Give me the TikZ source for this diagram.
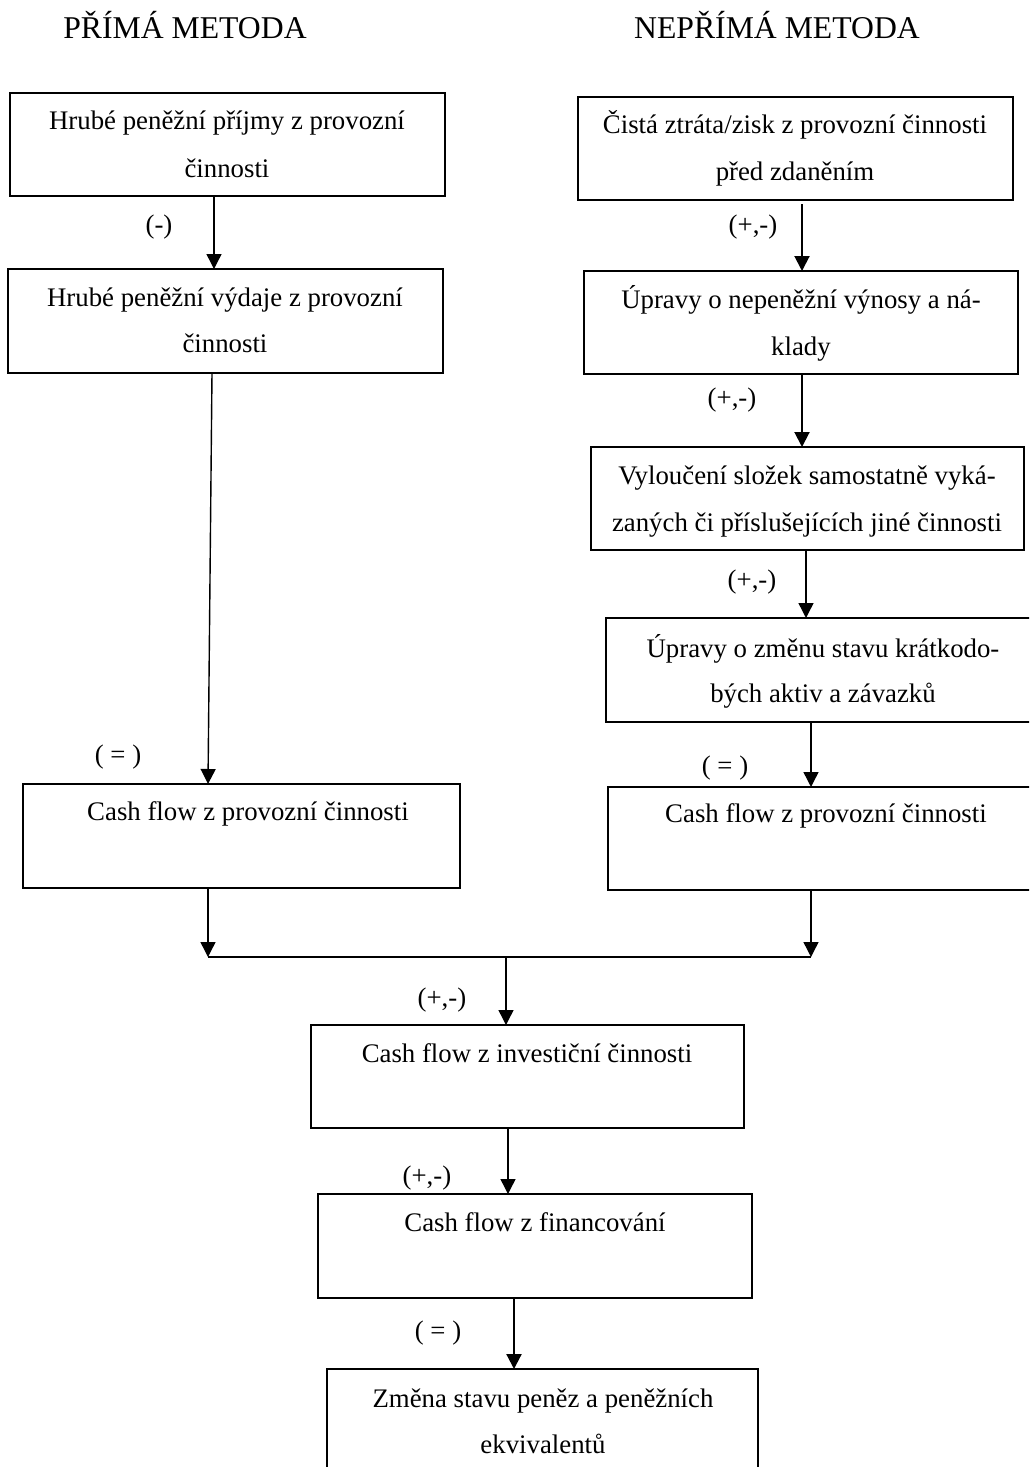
\documentclass[tikz,border=0pt]{standalone}
\usepackage{fontspec}
\setmainfont{Liberation Serif}
\usetikzlibrary{arrows.meta,fit}
\begin{document}
\begin{tikzpicture}[x=0.5pt,y=-0.5pt,
  box/.style={draw, line width=0.95pt, inner sep=0pt, outer sep=0pt},
  txt/.style={inner sep=0pt, anchor=base, font=\fontsize{13.4}{16}\selectfont},
  lbl/.style={inner sep=0pt, anchor=center, font=\fontsize{13.4}{16}\selectfont},
  head/.style={inner sep=0pt, anchor=base, font=\fontsize{15.85}{19}\selectfont},
  arr/.style={-{Triangle[width=7.5pt,length=7.5pt]}, line width=0.7pt},
  arrb/.style={arr, line width=1pt},
  bar/.style={line width=0.7pt}]
\useasboundingbox (0,0) rectangle (1029,1467);
\clip (0,0) rectangle (1029,1467);

% column headings
\node[head] (hl) at (185,39) {PŘÍMÁ METODA};
\node[head] (hr) at (777,39) {NEPŘÍMÁ METODA};

% direct method
\node[box, fit={(10,93) (445,196)}] (L1) {};
\node[txt] (L1a) at (227,129) {Hrubé peněžní příjmy z provozní};
\node[txt] (L1b) at (227,177) {činnosti};
\node[box, fit={(8,269) (443,373)}] (L2) {};
\node[txt] (L2a) at (225,306) {Hrubé peněžní výdaje z provozní};
\node[txt] (L2b) at (225,352) {činnosti};
\node[box, fit={(23,784) (460,888)}] (L3) {};
\node[txt] (L3a) at (248,820) {Cash flow z provozní činnosti};

% indirect method
\node[box, fit={(578,97) (1013,200)}] (R1) {};
\node[txt] (R1a) at (795,133) {Čistá ztráta/zisk z provozní činnosti};
\node[txt] (R1b) at (795,180) {před zdaněním};
\node[box, fit={(584,271) (1018,374)}] (R2) {};
\node[txt] (R2a) at (801,308) {Úpravy o nepeněžní výnosy a ná-};
\node[txt] (R2b) at (801,355) {klady};
\node[box, fit={(591,447) (1024,550)}] (R3) {};
\node[txt] (R3a) at (807,484) {Vyloučení složek samostatně vyká-};
\node[txt] (R3b) at (807,531) {zaných či příslušejících jiné činnosti};
\node[box, fit={(606,618) (1040,722)}] (R4) {};
\node[txt] (R4a) at (823,657) {Úpravy o změnu stavu krátkodo-};
\node[txt] (R4b) at (823,702) {bých aktiv a závazků};
\node[box, fit={(608,787) (1044,890)}] (R5) {};
\node[txt] (R5a) at (826,822) {Cash flow z provozní činnosti};

% common part
\node[box, fit={(311,1025) (744,1128)}] (C1) {};
\node[txt] (C1a) at (527,1062) {Cash flow z investiční činnosti};
\node[box, fit={(318,1194) (752,1298)}] (C2) {};
\node[txt] (C2a) at (535,1231) {Cash flow z financování};
\node[box, fit={(327,1369) (758,1480)}] (C3) {};
\node[txt] (C3a) at (543,1407) {Změna stavu peněz a peněžních};
\node[txt] (C3b) at (543,1453) {ekvivalentů};

% junction of both methods
\coordinate (jl) at (208,957);
\coordinate (jr) at (811,957);
\coordinate (jc) at (506,957);

% connectors
\draw[arr] (214,0 |- L1.south) -- (214,0 |- L2.north);
\draw[arr] (212,0 |- L2.south) -- (208,0 |- L3.north);
\draw[arr] (208,0 |- L3.south) -- (jl);

\draw[arrb, shorten <=2pt] (802,0 |- R1.south) -- (802,0 |- R2.north);
\draw[arrb] (802,0 |- R2.south) -- (802,0 |- R3.north);
\draw[arr] (806,0 |- R3.south) -- (806,0 |- R4.north);
\draw[arr] (811,0 |- R4.south) -- (811,0 |- R5.north);
\draw[arr] (811,0 |- R5.south) -- (jr);

\draw[bar] (jl) -- (jr);
\draw[arr] (jc) -- (506,0 |- C1.north);
\draw[arr] (508,0 |- C1.south) -- (508,0 |- C2.north);
\draw[arr, line width=1.1pt] (514,0 |- C2.south) -- (514,0 |- C3.north);

% sign labels
\node[lbl] (s1) at (159,227) {(-)};
\node[lbl] (s2) at (118,757) {( = )};
\node[lbl] (s3) at (753,227) {(+,-)};
\node[lbl] (s4) at (732,400) {(+,-)};
\node[lbl] (s5) at (752,582) {(+,-)};
\node[lbl] (s6) at (725,768) {( = )};
\node[lbl] (s7) at (442,1000) {(+,-)};
\node[lbl] (s8) at (427,1178) {(+,-)};
\node[lbl] (s9) at (438,1333) {( = )};
\end{tikzpicture}
\end{document}
